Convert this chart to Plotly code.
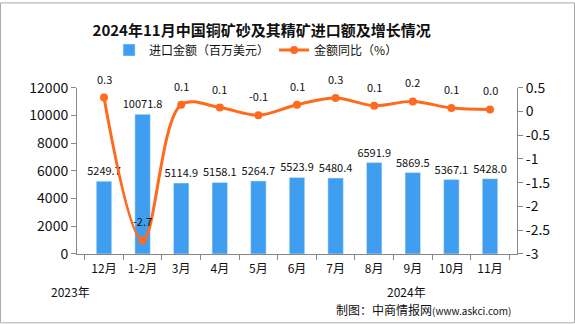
import plotly.graph_objects as go

categories = ["12月", "1-2月", "3月", "4月", "5月", "6月", "7月", "8月", "9月", "10月", "11月"]
import_value = [5249.7, 10071.8, 5114.9, 5158.1, 5264.7, 5523.9, 5480.4, 6591.9, 5869.5, 5367.1, 5428.0]
yoy = [0.29, -2.71, 0.14, 0.08, -0.08, 0.14, 0.28, 0.12, 0.21, 0.07, 0.04]
left_ticks = [0, 2000, 4000, 6000, 8000, 10000, 12000]
right_ticks = [0.5, 0, -0.5, -1, -1.5, -2, -2.5, -3]
right_tick_text = ["0.5", "0", "-0.5", "-1", "-1.5", "-2", "-2.5", "-3"]

W, H = 575, 324
L, R, T, B = 77, 58, 86, 70
pw, ph = W - L - R, H - T - B

def px(x):
    return (x - L) / pw

def py(y):
    return (H - B - y) / ph

FONT = "Noto Sans CJK SC"
AXIS = "#888888"

fig = go.Figure()
fig.add_trace(go.Bar(
    x=categories, y=import_value, name="进口金额（百万美元）",
    marker=dict(color="#3f9ef0"),
    text=[f"{v:.1f}" for v in import_value], textposition="outside", constraintext="none",
    textfont=dict(size=11, color="#111111", family=FONT),
    cliponaxis=False, yaxis="y",
))
fig.add_trace(go.Scatter(
    x=categories, y=yoy, name="金额同比（%）", yaxis="y2",
    mode="lines+markers", line=dict(color="#ff6a1f", width=3, shape="spline", smoothing=1.0),
    marker=dict(size=8, color="#ff6a1f"),
    cliponaxis=False,
))
for c, v in zip(categories, yoy):
    fig.add_annotation(x=c, y=v, xref="x", yref="y2", text=f"{v:.1f}", showarrow=False,
                       yshift=19, font=dict(size=11, color="#111111", family=FONT))

fig.update_layout(
    width=W, height=H, margin=dict(l=L, r=R, t=T, b=B),
    paper_bgcolor="white", plot_bgcolor="white",
    font=dict(family=FONT, color="#111111"),
    title=dict(text="<b>2024年11月中国铜矿砂及其精矿进口额及增长情况</b>", x=0.455, xanchor="center",
               y=1 - 31 / H, yanchor="middle", font=dict(size=15, family=FONT, color="#111111")),
    showlegend=True,
    legend=dict(orientation="h", x=0.407, xanchor="center", y=1 - 50 / H, yanchor="middle",
                yref="container", font=dict(size=12, family=FONT), itemwidth=30,
                bgcolor="rgba(0,0,0,0)"),
    bargap=0.6,
    xaxis=dict(showline=True, linecolor=AXIS, ticks="outside", tickson="boundaries", ticklen=5,
               tickcolor=AXIS, tickfont=dict(size=12, family=FONT), showgrid=False,
               ticklabelstandoff=4),
    yaxis=dict(range=[0, 12000], tickvals=left_ticks, showline=True, linecolor=AXIS, ticks="outside",
               ticklen=5, tickcolor=AXIS, showgrid=False, zeroline=False,
               tickfont=dict(size=14, family=FONT), tickformat="d"),
    yaxis2=dict(range=[-3, 0.5], tickvals=right_ticks, ticktext=right_tick_text, overlaying="y",
                side="right", showline=True, linecolor=AXIS, ticks="outside", ticklen=5, tickcolor=AXIS,
                showgrid=False, zeroline=False, tickfont=dict(size=14, family=FONT)),
)

fig.add_annotation(text="2023年", xref="paper", yref="paper", x=px(70), y=py(292),
                   xanchor="center", yanchor="middle",
                   showarrow=False, font=dict(size=12, family=FONT))
fig.add_annotation(text="2024年", xref="paper", yref="paper", x=px(406), y=py(292),
                   xanchor="center", yanchor="middle",
                   showarrow=False, font=dict(size=12, family=FONT))
fig.add_annotation(text="制图：中商情报网<span style='font-size:10px'>(www.askci.com)</span>",
                   xref="paper", yref="paper", x=px(513), xanchor="right", y=py(310), yanchor="middle",
                   showarrow=False, font=dict(size=12, family=FONT))
fig.add_shape(type="rect", xref="paper", yref="paper", x0=px(0.5), x1=px(574.5), y0=py(323.5), y1=py(0.5),
              line=dict(color="#aaaaaa", width=1), layer="below")

fig.write_html("out.html")
